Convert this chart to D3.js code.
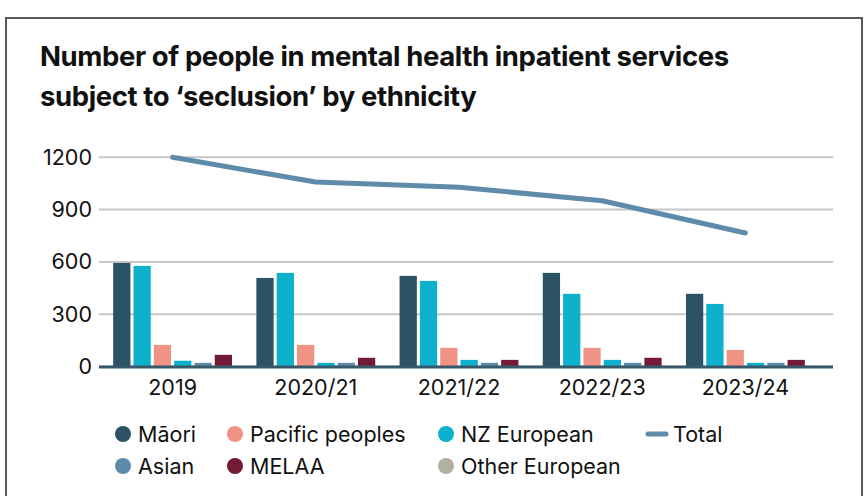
<!DOCTYPE html>
<html>
<head>
<meta charset="utf-8">
<script src="https://cdn.jsdelivr.net/npm/d3@7"></script>
<style>
  body { margin: 0; background: #fff; }
  svg { display: block; font-family: Inter, "Open Sans", sans-serif; }
</style>
</head>
<body>
<div class="container"></div>
<script>
// data
const years = ['2019', '2020/21', '2021/22', '2022/23', '2023/24']
const maori = [594, 508, 520, 537, 417]
const nzEuropean = [577, 537, 491, 417, 359]
const pacific = [124, 124, 107, 107, 95]
const otherEuropean = [33, 21, 38, 38, 21]
const asian = [21, 21, 21, 21, 21]
const melaa = [67, 50, 38, 50, 38]
const total = [1200, 1058, 1028, 951, 766]
const yTicks = [0, 300, 600, 900, 1200]

// bar order as drawn in each group
const series = [
  { name: 'Māori', values: maori, color: '#2b5364' },
  { name: 'NZ European', values: nzEuropean, color: '#0db1cb' },
  { name: 'Pacific peoples', values: pacific, color: '#f09385' },
  { name: 'Other European', values: otherEuropean, color: '#0db1cb' },
  { name: 'Asian', values: asian, color: '#5f8bab' },
  { name: 'MELAA', values: melaa, color: '#731a35' }
]

const legendItems = [
  { name: 'Māori', color: '#2b5364', x: 123, y: 434 },
  { name: 'Pacific peoples', color: '#f09385', x: 235, y: 434 },
  { name: 'NZ European', color: '#0db1cb', x: 446, y: 434 },
  { name: 'Total', color: '#5f8bab', x: 657, y: 434, line: true },
  { name: 'Asian', color: '#5f8bab', x: 123, y: 466 },
  { name: 'MELAA', color: '#731a35', x: 235, y: 466 },
  { name: 'Other European', color: '#b1afa2', x: 446, y: 466 }
]

const width = 867
const height = 496
const labelSize = 21.5

const svg = d3.select('.container')
  .append('svg')
  .attr('width', width)
  .attr('height', height)

// frame
svg.append('rect')
  .attr('x', 6).attr('y', 18)
  .attr('width', 856).attr('height', 500)
  .attr('fill', 'none')
  .attr('stroke', '#5a5a5a')
  .attr('stroke-width', 2)

// title
const title = svg.append('text')
  .attr('x', 40)
  .attr('font-size', 27.5)
  .attr('font-weight', 700)
  .attr('letter-spacing', -0.4)
  .attr('fill', '#111')
title.append('tspan').attr('x', 40).attr('y', 66).text('Number of people in mental health inpatient services')
title.append('tspan').attr('x', 40).attr('y', 106).text('subject to ‘seclusion’ by ethnicity')

const yScale = d3.scaleLinear()
  .domain([0, 1200])
  .range([366.5, 157.3])

const xScale = d3.scaleBand()
  .domain(years)
  .range([101, 817])
  .paddingInner(0.17)
  .paddingOuter(0.085)

const xInner = d3.scaleBand()
  .domain(series.map(s => s.name))
  .range([0, xScale.bandwidth()])
  .paddingInner(0.15)

// gridlines
svg.append('g')
  .selectAll('line')
  .data(yTicks)
  .enter()
  .append('line')
  .attr('x1', 99).attr('x2', 833)
  .attr('y1', d => yScale(d)).attr('y2', d => yScale(d))
  .attr('stroke', '#c6c6c6')
  .attr('stroke-width', 2)

const yAxis = d3.axisLeft(yScale).tickValues(yTicks).tickFormat(d3.format('d')).tickSize(0).tickPadding(0)
const yG = svg.append('g')
  .attr('transform', 'translate(92, 0)')
  .call(yAxis)
yG.select('.domain').remove()
yG.selectAll('text')
  .attr('font-size', labelSize)
  .attr('font-family', 'Inter, sans-serif')
  .attr('fill', '#111')

// bars
svg.append('g')
  .selectAll('g')
  .data(series)
  .enter()
  .append('g')
  .attr('fill', d => d.color)
  .selectAll('rect')
  .data(d => d.values.map((v, i) => ({ name: d.name, year: years[i], value: v })))
  .enter()
  .append('rect')
  .attr('x', d => xScale(d.year) + xInner(d.name))
  .attr('y', d => yScale(d.value))
  .attr('width', xInner.bandwidth())
  .attr('height', d => yScale(0) - yScale(d.value))

// baseline
svg.append('line')
  .attr('x1', 99).attr('x2', 833)
  .attr('y1', yScale(0) + 0.5).attr('y2', yScale(0) + 0.5)
  .attr('stroke', '#35596a')
  .attr('stroke-width', 3)

const xAxis = d3.axisBottom(xScale).tickSize(0).tickPadding(0)
const xG = svg.append('g')
  .attr('transform', 'translate(0, 380)')
  .call(xAxis)
xG.select('.domain').remove()
xG.selectAll('text')
  .attr('font-size', labelSize)
  .attr('font-family', 'Inter, sans-serif')
  .attr('fill', '#111')

// total line
const line = d3.line()
  .x((d, i) => xScale(years[i]) + xScale.bandwidth() / 2)
  .y(d => yScale(d))

svg.append('path')
  .datum(total)
  .attr('d', line)
  .attr('fill', 'none')
  .attr('stroke', '#5f8bab')
  .attr('stroke-width', 5)
  .attr('stroke-linecap', 'round')
  .attr('stroke-linejoin', 'round')

// legend
const legend = svg.append('g')
  .selectAll('g')
  .data(legendItems)
  .enter()
  .append('g')
  .attr('transform', d => `translate(${d.x}, ${d.y})`)

legend.filter(d => !d.line)
  .append('circle')
  .attr('r', 8)
  .attr('fill', d => d.color)

legend.filter(d => d.line)
  .append('line')
  .attr('x1', -9).attr('x2', 9)
  .attr('stroke', d => d.color)
  .attr('stroke-width', 5)
  .attr('stroke-linecap', 'round')

legend.append('text')
  .attr('x', d => d.line ? 16 : 15)
  .attr('dy', '0.35em')
  .attr('font-size', labelSize)
  .attr('fill', '#111')
  .text(d => d.name)
</script>
</body>
</html>
